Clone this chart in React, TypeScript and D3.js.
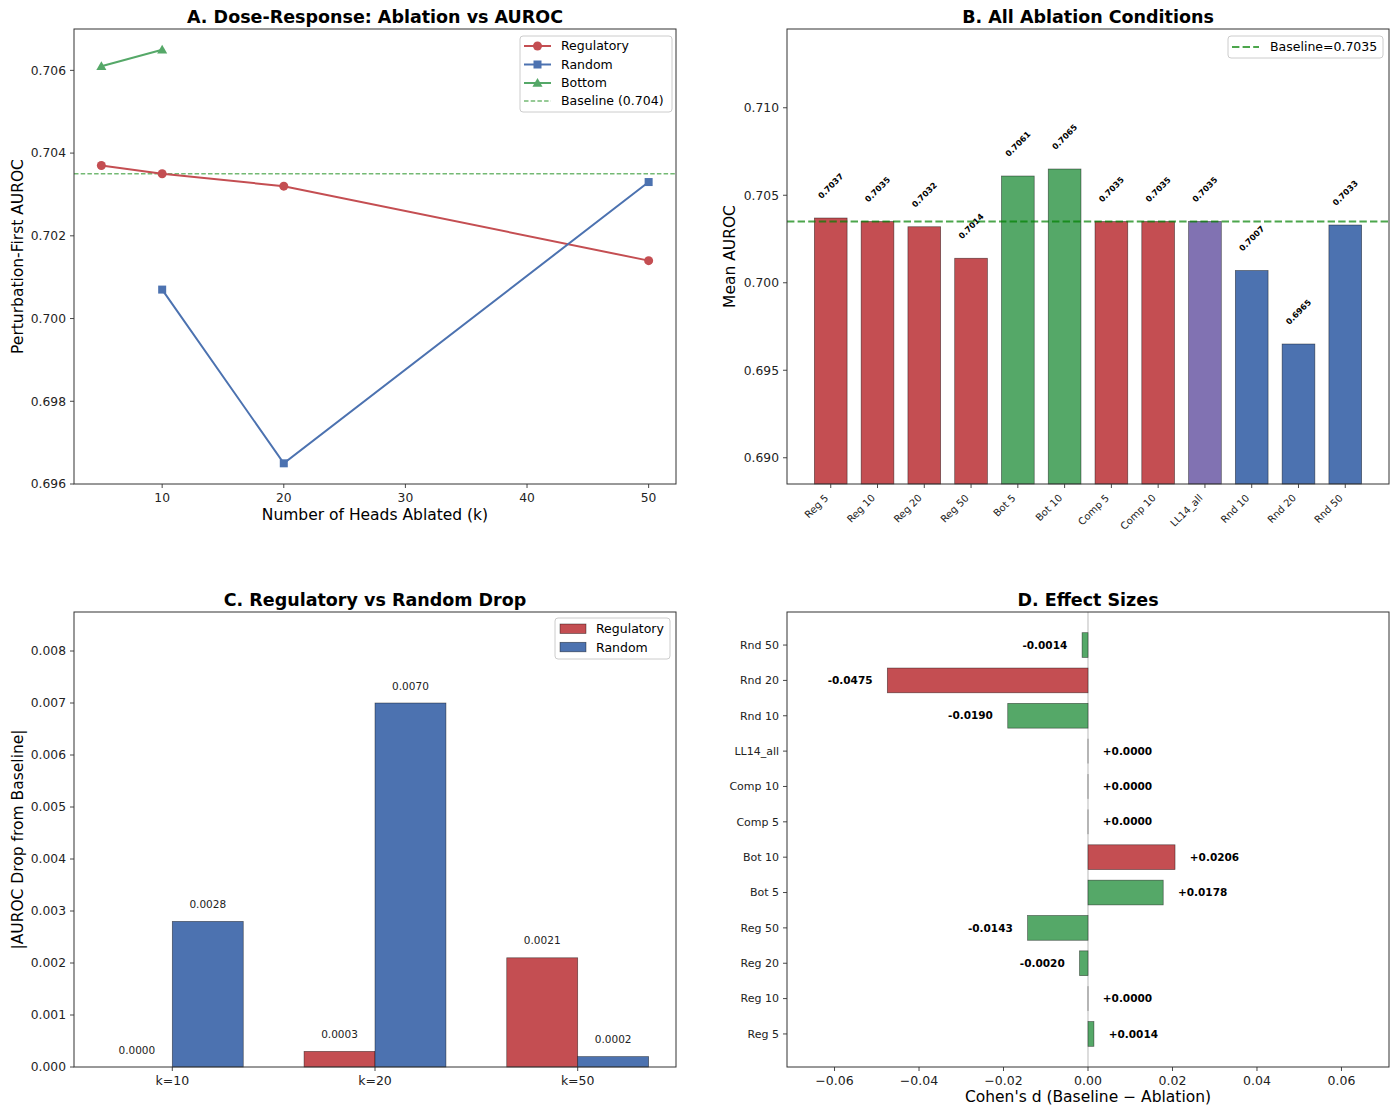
import React from 'react'
import * as d3 from 'd3'

const FONT = '"DejaVu Sans", Verdana, sans-serif'
const RED = '#C44E52'
const BLUE = '#4C72B0'
const GREEN = '#55A868'
const PURPLE = '#8172B2'
const SPINE = '#333333'

// A. dose-response
const regK = [5, 10, 20, 50]
const regAuroc = [0.7037, 0.7035, 0.7032, 0.7014]
const rndK = [10, 20, 50]
const rndAuroc = [0.7007, 0.6965, 0.7033]
const botK = [5, 10]
const botAuroc = [0.7061, 0.7065]
const baseline = 0.7035
const doseXTicks = [10, 20, 30, 40, 50]
const doseYTicks = [0.696, 0.698, 0.7, 0.702, 0.704, 0.706]

// B. all conditions
const conditions = ['Reg 5', 'Reg 10', 'Reg 20', 'Reg 50', 'Bot 5', 'Bot 10', 'Comp 5', 'Comp 10', 'LL14_all', 'Rnd 10', 'Rnd 20', 'Rnd 50']
const condAuroc = [0.7037, 0.7035, 0.7032, 0.7014, 0.7061, 0.7065, 0.7035, 0.7035, 0.7035, 0.7007, 0.6965, 0.7033]
const condColors = [RED, RED, RED, RED, GREEN, GREEN, RED, RED, PURPLE, BLUE, BLUE, BLUE]
const condYTicks = [0.69, 0.695, 0.7, 0.705, 0.71]

// C. drop
const dropK = ['k=10', 'k=20', 'k=50']
const regDrop = [0.0, 0.0003, 0.0021]
const rndDrop = [0.0028, 0.007, 0.0002]
const dropYTicks = [0, 0.001, 0.002, 0.003, 0.004, 0.005, 0.006, 0.007, 0.008]

// D. effect sizes
const effectD = [0.0014, 0.0, -0.002, -0.0143, 0.0178, 0.0206, 0.0, 0.0, 0.0, -0.019, -0.0475, -0.0014]
const effectXTicks = [-0.06, -0.04, -0.02, 0, 0.02, 0.04, 0.06]

type Box = { l: number; r: number; t: number; b: number }
const boxA: Box = { l: 74, r: 676, t: 29, b: 484 }
const boxB: Box = { l: 787, r: 1389, t: 29, b: 484 }
const boxC: Box = { l: 74, r: 676, t: 612, b: 1067 }
const boxD: Box = { l: 787, r: 1389, t: 612, b: 1067 }

const TICK = 12.3
const fmtMinus = (s: string) => s.replace('-', '\u2212')

function Frame({ box }: { box: Box }) {
  return <rect x={box.l} y={box.t} width={box.r - box.l} height={box.b - box.t} fill="none" stroke={SPINE} strokeWidth={1} />
}

function Title({ box, text }: { box: Box; text: string }) {
  return (
    <text x={(box.l + box.r) / 2} y={box.t - 6} textAnchor="middle" fontSize={17.5} fontWeight="bold" fill="#000">
      {text}
    </text>
  )
}

function YAxis({ box, scale, ticks, fmt, fs = TICK, labels }: any) {
  return (
    <g>
      {ticks.map((t: any, i: number) => (
        <g key={i}>
          <line x1={box.l - 4} x2={box.l} y1={scale(t)} y2={scale(t)} stroke={SPINE} strokeWidth={0.9} />
          <text x={box.l - 8} y={scale(t)} dy="0.35em" textAnchor="end" fontSize={fs} fill="#222">
            {labels ? labels[i] : fmt(t)}
          </text>
        </g>
      ))}
    </g>
  )
}

function XAxis({ box, scale, ticks, fmt, fs = TICK }: any) {
  return (
    <g>
      {ticks.map((t: any, i: number) => (
        <g key={i}>
          <line x1={scale(t)} x2={scale(t)} y1={box.b} y2={box.b + 4} stroke={SPINE} strokeWidth={0.9} />
          <text x={scale(t)} y={box.b + 18} textAnchor="middle" fontSize={fs} fill="#222">
            {fmt(t)}
          </text>
        </g>
      ))}
    </g>
  )
}

function LegendBox({ x, y, w, h }: { x: number; y: number; w: number; h: number }) {
  return <rect x={x} y={y} width={w} height={h} rx={3} fill="#fff" fillOpacity={0.85} stroke="#cccccc" strokeWidth={1} />
}

function Marker({ kind, x, y, color }: { kind: string; x: number; y: number; color: string }) {
  if (kind === 'circle') return <circle cx={x} cy={y} r={4.5} fill={color} />
  if (kind === 'square') return <rect x={x - 4} y={y - 4} width={8} height={8} fill={color} />
  return <path d={d3.symbol(d3.symbolTriangle, 44)() as string} transform={`translate(${x},${y + 0.9})`} fill={color} />
}

function PanelA() {
  const x = d3.scaleLinear().domain([2.75, 52.25]).range([boxA.l, boxA.r])
  const y = d3.scaleLinear().domain([0.696, 0.707]).range([boxA.b, boxA.t])
  const series = [
    { name: 'Regulatory', k: regK, v: regAuroc, color: RED, kind: 'circle' },
    { name: 'Random', k: rndK, v: rndAuroc, color: BLUE, kind: 'square' },
    { name: 'Bottom', k: botK, v: botAuroc, color: GREEN, kind: 'triangle' },
  ]
  const legendRows = [46, 64.5, 83, 101]
  return (
    <g>
      <line x1={boxA.l} x2={boxA.r} y1={y(baseline)} y2={y(baseline)} stroke="green" strokeOpacity={0.55} strokeWidth={1.3} strokeDasharray="4.5,2.2" />
      {series.map((s) => {
        const line = d3.line<number>().x((_, i) => x(s.k[i])).y((d) => y(d))
        return (
          <g key={s.name}>
            <path d={line(s.v) as string} fill="none" stroke={s.color} strokeWidth={2} />
            {s.v.map((d, i) => (
              <Marker key={i} kind={s.kind} x={x(s.k[i])} y={y(d)} color={s.color} />
            ))}
          </g>
        )
      })}
      <Frame box={boxA} />
      <XAxis box={boxA} scale={x} ticks={doseXTicks} fmt={(t: number) => String(t)} />
      <YAxis box={boxA} scale={y} ticks={doseYTicks} fmt={d3.format('.3f')} />
      <text x={(boxA.l + boxA.r) / 2} y={520} textAnchor="middle" fontSize={15.5}>Number of Heads Ablated (k)</text>
      <text transform={`translate(18,${(boxA.t + boxA.b) / 2}) rotate(-90)`} textAnchor="middle" dy="0.35em" fontSize={15.5}>Perturbation-First AUROC</text>
      <Title box={boxA} text="A. Dose-Response: Ablation vs AUROC" />
      <LegendBox x={520} y={36} w={152} h={76} />
      {series.map((s, i) => (
        <g key={s.name}>
          <line x1={524} x2={551} y1={legendRows[i]} y2={legendRows[i]} stroke={s.color} strokeWidth={2} />
          <Marker kind={s.kind} x={537.5} y={legendRows[i]} color={s.color} />
          <text x={561} y={legendRows[i]} dy="0.35em" fontSize={12.5}>{s.name}</text>
        </g>
      ))}
      <line x1={524} x2={551} y1={legendRows[3]} y2={legendRows[3]} stroke="green" strokeOpacity={0.55} strokeWidth={1.3} strokeDasharray="4.5,2.2" />
      <text x={561} y={legendRows[3]} dy="0.35em" fontSize={12.5}>Baseline (0.704)</text>
    </g>
  )
}

function PanelB() {
  const x = d3.scaleLinear().domain([-0.935, 11.935]).range([boxB.l, boxB.r])
  const y = d3.scaleLinear().domain([0.6885, 0.7145]).range([boxB.b, boxB.t])
  const bw = x(0.7) - x(0)
  const lblFs = 8.2
  const half = (lblFs * 3.86 + lblFs * 1.15) / (2 * Math.SQRT2)
  const tickFs = 10
  const off = 0.354 * tickFs * 1.17
  return (
    <g>
      {condAuroc.map((v, i) => (
        <rect key={i} x={x(i) - bw / 2} y={y(v)} width={bw} height={boxB.b - y(v)} fill={condColors[i]} stroke="#000" strokeOpacity={0.55} strokeWidth={0.7} />
      ))}
      {condAuroc.map((v, i) => {
        const cx = x(i)
        const cy = y(v + 0.001) - half
        return (
          <text key={i} x={cx} y={cy} transform={`rotate(-45,${cx},${cy})`} textAnchor="middle" dy="0.35em" fontSize={lblFs} fontWeight="bold">
            {v.toFixed(4)}
          </text>
        )
      })}
      <line x1={boxB.l} x2={boxB.r} y1={y(baseline)} y2={y(baseline)} stroke="green" strokeOpacity={0.7} strokeWidth={2} strokeDasharray="7.4,3.2" />
      <Frame box={boxB} />
      {conditions.map((c, i) => {
        const px = x(i) - off
        const py = boxB.b + 8 + off
        return (
          <g key={c}>
            <line x1={x(i)} x2={x(i)} y1={boxB.b} y2={boxB.b + 4} stroke={SPINE} strokeWidth={0.9} />
            <text x={px} y={py} transform={`rotate(-45,${px},${py})`} textAnchor="end" dy="0.35em" fontSize={tickFs} fill="#222">{c}</text>
          </g>
        )
      })}
      <YAxis box={boxB} scale={y} ticks={condYTicks} fmt={d3.format('.3f')} />
      <text transform={`translate(730,${(boxB.t + boxB.b) / 2}) rotate(-90)`} textAnchor="middle" dy="0.35em" fontSize={15.5}>Mean AUROC</text>
      <Title box={boxB} text="B. All Ablation Conditions" />
      <LegendBox x={1228} y={36} w={155} h={22} />
      <line x1={1232} x2={1259} y1={47} y2={47} stroke="green" strokeOpacity={0.7} strokeWidth={2} strokeDasharray="7.4,3.2" />
      <text x={1270} y={47} dy="0.35em" fontSize={12.5}>Baseline=0.7035</text>
    </g>
  )
}

function PanelC() {
  const x = d3.scaleLinear().domain([-0.485, 2.485]).range([boxC.l, boxC.r])
  const y = d3.scaleLinear().domain([0, 0.00875]).range([boxC.b, boxC.t])
  const w = 0.35
  const groups = [
    { name: 'Regulatory', v: regDrop, color: RED, dx: -w },
    { name: 'Random', v: rndDrop, color: BLUE, dx: 0 },
  ]
  return (
    <g>
      {groups.map((g) =>
        g.v.map((v, i) => (
          <g key={g.name + i}>
            {v > 0 && (
              <rect x={x(i + g.dx)} y={y(v)} width={x(w) - x(0)} height={y(0) - y(v)} fill={g.color} stroke="#000" strokeOpacity={0.55} strokeWidth={0.7} />
            )}
            <text x={x(i + g.dx + w / 2)} y={y(v + 0.0002) - 3} textAnchor="middle" fontSize={10.5} fill="#222">
              {v.toFixed(4)}
            </text>
          </g>
        ))
      )}
      <Frame box={boxC} />
      <XAxis box={boxC} scale={(i: number) => x(i)} ticks={[0, 1, 2]} fmt={(i: number) => dropK[i]} fs={12.5} />
      <YAxis box={boxC} scale={y} ticks={dropYTicks} fmt={d3.format('.3f')} />
      <text transform={`translate(18,${(boxC.t + boxC.b) / 2}) rotate(-90)`} textAnchor="middle" dy="0.35em" fontSize={15.5}>|AUROC Drop from Baseline|</text>
      <Title box={boxC} text="C. Regulatory vs Random Drop" />
      <LegendBox x={555} y={618} w={115} h={41} />
      {groups.map((g, i) => (
        <g key={g.name}>
          <rect x={560} y={624 + i * 18.3} width={26} height={9.5} fill={g.color} stroke="#000" strokeOpacity={0.55} strokeWidth={0.7} />
          <text x={596} y={629 + i * 18.3} dy="0.35em" fontSize={12.5}>{g.name}</text>
        </g>
      ))}
    </g>
  )
}

function PanelD() {
  const x = d3.scaleLinear().domain([-0.07125, 0.07125]).range([boxD.l, boxD.r])
  const y = d3.scaleLinear().domain([-0.935, 11.935]).range([boxD.b, boxD.t])
  const bh = y(0) - y(0.7)
  return (
    <g>
      <line x1={x(0)} x2={x(0)} y1={boxD.t} y2={boxD.b} stroke="gray" strokeOpacity={0.45} strokeWidth={1.2} />
      {effectD.map((d, i) => {
        const color = Math.abs(d) > 0.02 ? RED : GREEN
        const x0 = Math.min(x(0), x(d))
        const wpx = Math.abs(x(d) - x(0))
        return wpx < 0.5 ? (
          <line key={i} x1={x(0)} x2={x(0)} y1={y(i) - bh / 2} y2={y(i) + bh / 2} stroke="#000" strokeOpacity={0.45} strokeWidth={0.8} />
        ) : (
          <rect key={i} x={x0} y={y(i) - bh / 2} width={wpx} height={bh} fill={color} stroke="#000" strokeOpacity={0.55} strokeWidth={0.7} />
        )
      })}
      {effectD.map((d, i) => {
        const neg = d < 0
        const lx = x(d + (neg ? -0.0035 : 0.0035))
        const s = (neg ? '-' : '+') + Math.abs(d).toFixed(4)
        return (
          <text key={i} x={lx} y={y(i)} dy="0.35em" textAnchor={neg ? 'end' : 'start'} fontSize={10.5} fontWeight="bold">
            {s}
          </text>
        )
      })}
      <Frame box={boxD} />
      <XAxis box={boxD} scale={x} ticks={effectXTicks} fmt={(t: number) => fmtMinus(d3.format('.2f')(t))} fs={12.5} />
      <YAxis box={boxD} scale={y} ticks={d3.range(conditions.length)} labels={conditions} fs={11} />
      <text x={(boxD.l + boxD.r) / 2} y={1102} textAnchor="middle" fontSize={15.5}>Cohen's d (Baseline {'\u2212'} Ablation)</text>
      <Title box={boxD} text="D. Effect Sizes" />
    </g>
  )
}

export default function App() {
  return (
    <svg
      width={1400}
      height={1114}
      viewBox="0 0 1400 1114"
      style={{ position: 'absolute', left: 0, top: 0, background: '#fff' }}
      fontFamily={FONT}
    >
      <rect width={1400} height={1114} fill="#fff" />
      <PanelA />
      <PanelB />
      <PanelC />
      <PanelD />
    </svg>
  )
}
